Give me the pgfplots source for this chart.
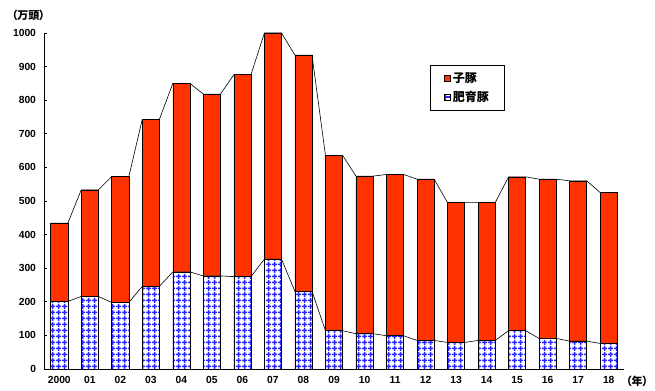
\documentclass[border=0pt]{standalone}
\usepackage{fontspec}
\setmainfont{Liberation Sans}
\newfontfamily\jp{Noto Sans CJK JP}[RawFeature=+palt]
\usepackage{pgfplots}
\usepackage{pgfplotstable}
\pgfplotsset{compat=1.18}
\usetikzlibrary{patterns}

\definecolor{pigred}{RGB}{255,51,0}
\definecolor{gridblue}{RGB}{40,40,255}

% blue check pattern for the fattening-pig bars
\pgfdeclarepatternformonly{bluegrid}{\pgfqpoint{0bp}{0bp}}{\pgfqpoint{5.6bp}{5.6bp}}{\pgfqpoint{5.6bp}{5.6bp}}{%
  \pgfsetlinewidth{1.4bp}%
  \pgfpathmoveto{\pgfqpoint{0bp}{2.8bp}}\pgfpathlineto{\pgfqpoint{5.6bp}{2.8bp}}%
  \pgfpathmoveto{\pgfqpoint{2.8bp}{0bp}}\pgfpathlineto{\pgfqpoint{2.8bp}{5.6bp}}%
  \pgfusepath{stroke}}

% x: year index, b: 肥育豚, r: 子豚 (万頭)
\pgfplotstableread{
x b r
0 201 233
1 216 317
2 198 375
3 246 497
4 289 561
5 277 541
6 275 601
7 327 673
8 231 703
9 114 522
10 105 469
11 99 480
12 85 480
13 79 416
14 85 410
15 114 458
16 91 474
17 83 477
18 76 449
}\pigs

\pgfplotsset{
  pigbar/.style={ybar, bar width=0.56, bar shift=0pt, draw=black, line width=0.6bp,
    legend image code/.code={\draw[##1, line width=0.7bp] (0bp,-3bp) rectangle (6bp,3bp);}},
}

\begin{document}
\begin{tikzpicture}
\begin{axis}[
  name=ax, scale only axis, width=580bp, height=336bp,
  xmin=-0.5, xmax=18.5, ymin=0, ymax=1000,
  axis lines*=left, axis line style={line width=0.8bp, black},
  xtick={0,...,18},
  xticklabels={2000,01,02,03,04,05,06,07,08,09,10,11,12,13,14,15,16,17,18},
  ytick={0,100,...,1000},
  tick align=inside, major tick length=3bp,
  xtick style={draw=none}, ytick style={black, line width=0.6bp},
  tick label style={font=\bfseries\fontsize{10.3bp}{12bp}\selectfont},
  /pgf/number format/assume math mode=true,
  /pgf/number format/1000 sep={},
  yticklabel style={xshift=-4.5bp},
  xticklabel style={yshift=-4bp},
  legend style={at={(0.665,0.905)}, anchor=north west, draw=black, line width=0.8bp,
    font=\jp\bfseries\fontsize{12bp}{14bp}\selectfont,
    inner xsep=14bp, inner ysep=5bp, row sep=4bp,
    /tikz/every even column/.append style={column sep=1bp}},
  legend cell align=left,
]
% 子豚 (drawn from zero up to the stack total)
\addplot[pigbar, fill=pigred] table[x=x, y expr=\thisrow{b}+\thisrow{r}] {\pigs};
\addlegendentry{子豚}
% 肥育豚
\addplot[pigbar, fill=white, postaction={pattern=bluegrid, pattern color=gridblue}] table[x=x, y=b] {\pigs};
\addlegendentry{肥育豚}

% series lines joining neighbouring bar tops
\addplot[black, line width=0.6bp, forget plot] coordinates {
(-0.28,434)(0.28,434)(0.72,533)(1.28,533)(1.72,573)(2.28,573)(2.72,743)(3.28,743)
(3.72,850)(4.28,850)(4.72,818)(5.28,818)(5.72,876)(6.28,876)(6.72,1000)(7.28,1000)
(7.72,934)(8.28,934)(8.72,636)(9.28,636)(9.72,574)(10.28,574)(10.72,579)(11.28,579)
(11.72,565)(12.28,565)(12.72,495)(13.28,495)(13.72,495)(14.28,495)(14.72,572)(15.28,572)
(15.72,565)(16.28,565)(16.72,560)(17.28,560)(17.72,525)(18.28,525)};
\addplot[black, line width=0.6bp, forget plot] coordinates {
(-0.28,201)(0.28,201)(0.72,216)(1.28,216)(1.72,198)(2.28,198)(2.72,246)(3.28,246)
(3.72,289)(4.28,289)(4.72,277)(5.28,277)(5.72,275)(6.28,275)(6.72,327)(7.28,327)
(7.72,231)(8.28,231)(8.72,114)(9.28,114)(9.72,105)(10.28,105)(10.72,99)(11.28,99)
(11.72,85)(12.28,85)(12.72,79)(13.28,79)(13.72,85)(14.28,85)(14.72,114)(15.28,114)
(15.72,91)(16.28,91)(16.72,83)(17.28,83)(17.72,76)(18.28,76)};
\end{axis}
\node[anchor=base east, inner sep=0pt, font=\jp\bfseries\fontsize{11bp}{13bp}\selectfont]
  at ([shift={(1bp,13bp)}]ax.north west) {（万頭）};
\node[anchor=base west, inner sep=0pt, font=\jp\bfseries\fontsize{11bp}{13bp}\selectfont]
  at ([shift={(2bp,-16bp)}]ax.south east) {（年）};
\path ([shift={(-44bp,-22bp)}]ax.south west) rectangle ([shift={(31bp,33bp)}]ax.north east);
\end{tikzpicture}
\end{document}
